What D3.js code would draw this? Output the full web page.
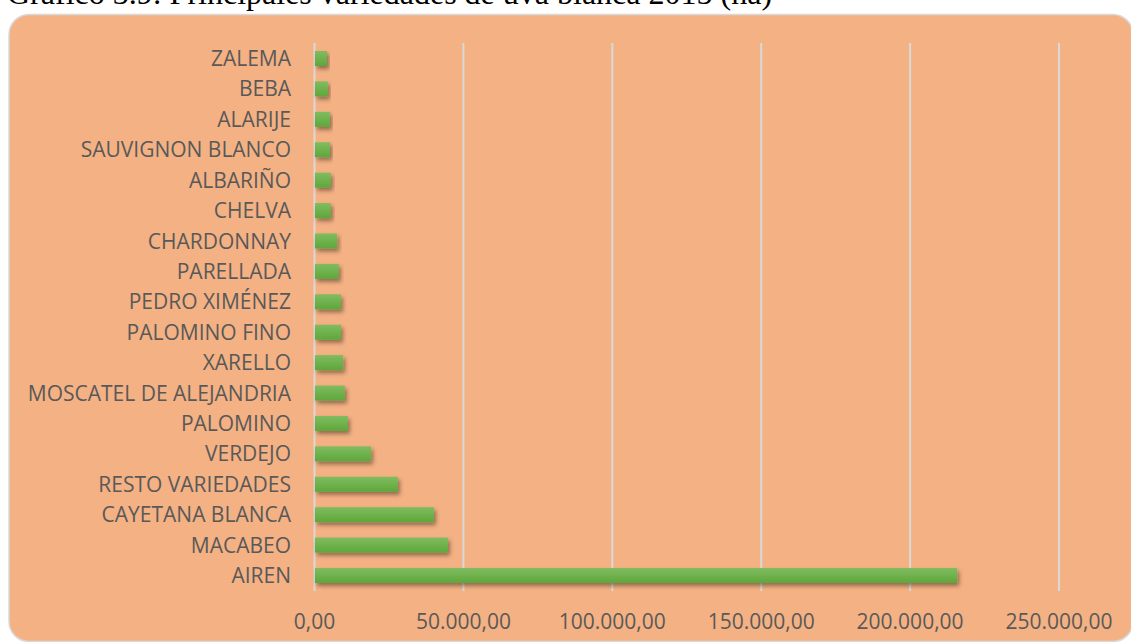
<!DOCTYPE html>
<meta charset="utf-8">
<head>
  <title>Principales variedades de uva blanca 2015</title>
</head>
<style>
body { margin: 0; background: #fff; }
.grid line { stroke: #d9d9d9; stroke-width: 2px; }
.cat text, .ticks text { font-family: "Open Sans", sans-serif; fill: #595959; }
.title { font-family: "Liberation Serif", serif; font-size: 32px; fill: #000; }
</style>
<body>
<svg width="1131" height="642"></svg>
<script src="https://cdnjs.cloudflare.com/ajax/libs/d3/7.8.5/d3.min.js"></script>
<script>
var categories = ["ZALEMA", "BEBA", "ALARIJE", "SAUVIGNON BLANCO", "ALBARIÑO", "CHELVA",
  "CHARDONNAY", "PARELLADA", "PEDRO XIMÉNEZ", "PALOMINO FINO", "XARELLO",
  "MOSCATEL DE ALEJANDRIA", "PALOMINO", "VERDEJO", "RESTO VARIEDADES",
  "CAYETANA BLANCA", "MACABEO", "AIREN"];
var hectares = [4200, 4500, 5200, 5200, 5500, 5500,
  7600, 8200, 8900, 8900, 9600,
  10200, 11200, 19000, 28000,
  40100, 44800, 215800];
var tickValues = [0, 50000, 100000, 150000, 200000, 250000];
var titleText = "Gráfico 3.9: Principales variedades de uva blanca 2015 (ha)";

var svg = d3.select("svg");
var defs = svg.append("defs");

var grad = defs.append("linearGradient").attr("id", "barFill")
  .attr("x1", 0).attr("y1", 0).attr("x2", 0).attr("y2", 1);
grad.append("stop").attr("offset", "0%").attr("stop-color", "#80bc60");
grad.append("stop").attr("offset", "100%").attr("stop-color", "#5ea73a");

var shadow = defs.append("filter").attr("id", "shadow")
  .attr("x", "-10%").attr("y", "-30%").attr("width", "130%").attr("height", "200%");
shadow.append("feDropShadow").attr("dx", 2).attr("dy", 3)
  .attr("stdDeviation", 2).attr("flood-color", "#000").attr("flood-opacity", 0.4);

// title (cut off at top in the original)
svg.append("text").attr("class", "title")
  .attr("x", 7).attr("y", 4)
  .text(titleText);

// panel
svg.append("rect")
  .attr("x", 9).attr("y", 14.5)
  .attr("width", 1124).attr("height", 627)
  .attr("rx", 20).attr("ry", 20)
  .attr("fill", "#f4b183")
  .attr("stroke", "#d9d9d9").attr("stroke-width", 1.5);

var x = d3.scaleLinear().domain([0, 250000]).range([314.5, 1059]);
var y = d3.scaleBand().domain(categories).range([43.3, 590.7]).paddingInner(0.507).paddingOuter(0.2535);

var es = d3.formatLocale({decimal: ",", thousands: ".", grouping: [3], currency: ["", "€"]});
var fmt = es.format(",.2f");

// gridlines
svg.append("g").attr("class", "grid")
  .selectAll("line")
  .data(tickValues)
  .enter().append("line")
  .attr("x1", function(d) { return x(d); })
  .attr("x2", function(d) { return x(d); })
  .attr("y1", 43)
  .attr("y2", 591);

// tick labels
svg.append("g").attr("class", "ticks")
  .selectAll("text")
  .data(tickValues)
  .enter().append("text")
  .attr("x", function(d) { return x(d); })
  .attr("y", 629)
  .attr("text-anchor", "middle")
  .style("font-size", "21px")
  .text(function(d) { return fmt(d); });

// category labels
svg.append("g").attr("class", "cat")
  .selectAll("text")
  .data(categories)
  .enter().append("text")
  .attr("x", 291)
  .attr("y", function(d) { return y(d) + y.bandwidth() / 2; })
  .attr("dy", "0.36em")
  .attr("text-anchor", "end")
  .style("font-size", "21px")
  .text(function(d) { return d; });

// bars
svg.append("g")
  .selectAll("rect")
  .data(hectares)
  .enter().append("rect")
  .attr("x", x(0) + 0.5)
  .attr("y", function(d, i) { return y(categories[i]); })
  .attr("width", function(d) { return x(d) - x(0) - 0.5; })
  .attr("height", y.bandwidth())
  .attr("fill", "url(#barFill)")
  .attr("filter", "url(#shadow)");
</script>
</body>
</html>
